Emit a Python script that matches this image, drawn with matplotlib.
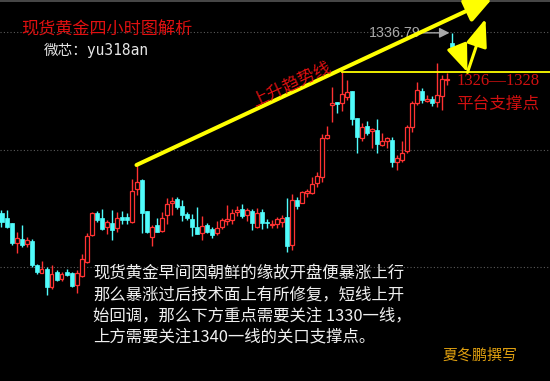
import matplotlib
matplotlib.use("Agg")
import matplotlib.pyplot as plt
import numpy as np

# ---- data (4-hour gold candles) ----
opens = [1291.75, 1290.5, 1289.25, 1284.25, 1285.25, 1284, 1284.75, 1278.75, 1276.75, 1277.75,
         1273.25, 1277, 1275.25, 1277, 1276.75, 1273.75, 1276, 1279.5, 1286.25, 1291.75,
         1290.5, 1288.25, 1289.25, 1288, 1290.75, 1290.75, 1289.5, 1297.75, 1300, 1292.25,
         1285.75, 1288.75, 1287.25, 1291.25, 1294.25, 1295.25, 1293.5, 1291.5, 1290.25, 1288.25,
         1286.75, 1288.75, 1287.75, 1286.75, 1288.25, 1289.75, 1290, 1292, 1292.75, 1291.25,
         1292.25, 1288.25, 1292, 1289.5, 1288.75, 1289, 1289.5, 1290.75, 1283.75, 1295,
         1294.25, 1296.75, 1296.75, 1299.25, 1300.75, 1310.5, 1318.75, 1319.5, 1319.25, 1320.75,
         1322.25, 1315.5, 1310.5, 1313.5, 1312.25, 1312.5, 1308.75, 1309.75, 1310, 1304.5,
         1305, 1307.25, 1313.25, 1319.25, 1322.25, 1319.75, 1320.25, 1319.5, 1321, 1325,
         1334.25, 1333.5]
highs = [1292.5, 1292.5, 1289.25, 1287, 1288.75, 1285.75, 1285.25, 1279, 1279.75, 1278.25,
         1278.75, 1277.5, 1277, 1277.75, 1277, 1277.5, 1281.5, 1286.75, 1292, 1292.25,
         1292.75, 1290, 1292.5, 1292, 1292.25, 1291.75, 1300.25, 1303.75, 1300.25, 1292.25,
         1288.75, 1290.5, 1292, 1295.5, 1295.75, 1295.75, 1295, 1292, 1291.5, 1293.25,
         1291, 1289.25, 1288.25, 1289.75, 1290.5, 1293.75, 1292.75, 1293.5, 1294, 1293,
         1292.75, 1293, 1292.75, 1290.25, 1290, 1290.75, 1291.25, 1295.5, 1296.5, 1295.75,
         1297.25, 1297.75, 1300.75, 1302, 1311.5, 1313.5, 1323.25, 1319.5, 1327, 1325,
         1322.25, 1315.5, 1314.25, 1314.75, 1313, 1315.25, 1311.75, 1310.75, 1310.75, 1306.25,
         1309.75, 1313.75, 1319.75, 1324.5, 1323, 1321.25, 1321, 1329.25, 1326.25, 1326.75,
         1336.79, 1333.75]
lows = [1288.25, 1288, 1283.75, 1281.75, 1283.25, 1283.25, 1278.25, 1276.5, 1276.75, 1271.25,
        1272.75, 1274.75, 1274.75, 1276, 1273.25, 1271.75, 1275.75, 1279.25, 1286, 1289.5,
        1287.5, 1286.5, 1285, 1287, 1289, 1289, 1289.25, 1296.25, 1286.75, 1286.75,
        1283.5, 1287, 1287, 1289, 1291.25, 1292.75, 1289.75, 1290, 1286, 1286.5,
        1285, 1286.75, 1285.5, 1286.25, 1287.75, 1288.75, 1289, 1291, 1290.5, 1289.75,
        1287.5, 1288, 1287.75, 1288, 1288, 1288, 1288.25, 1282, 1282.5, 1292.75,
        1294.25, 1295.75, 1296.5, 1298.25, 1299.5, 1310.25, 1314.5, 1316.75, 1317.25, 1320,
        1313.75, 1306.75, 1309.75, 1311.25, 1308, 1306.75, 1308.5, 1308, 1303.25, 1302.5,
        1304.5, 1306.75, 1312, 1318.75, 1319.25, 1319.5, 1318.5, 1318.25, 1317.5, 1323.75,
        1332.25, 1332]
closes = [1289.5, 1288.25, 1284.25, 1285.5, 1283.75, 1285, 1278.75, 1277, 1277.75, 1273.25,
          1276.5, 1275, 1276.5, 1276.25, 1273.5, 1276.75, 1280.25, 1286, 1291.75, 1290,
          1287.75, 1289.5, 1287.5, 1290.5, 1290, 1290, 1297.25, 1299.5, 1291.75, 1287,
          1288.25, 1287, 1290.5, 1294, 1294.75, 1293.25, 1291.25, 1290.5, 1288.25, 1286.5,
          1288.5, 1287, 1286.25, 1288, 1290, 1290.25, 1291.75, 1292.5, 1291, 1292.5,
          1289.25, 1291.75, 1289.25, 1289.25, 1289, 1290.25, 1290.5, 1283.5, 1295, 1293.5,
          1297, 1297.25, 1299, 1301, 1310.5, 1311.25, 1319.25, 1319, 1321.5, 1322,
          1315.25, 1310.75, 1313.25, 1311.75, 1312.75, 1309, 1309.75, 1310.5, 1304.5, 1305.5,
          1306.75, 1313.25, 1319.25, 1322.5, 1320, 1320.25, 1319.25, 1321.25, 1325.25, 1325.25,
          1333.25, 1332.5]

trend_start = (27, 1303.75)      # candle high where the trend line starts
trend_end = (98.1, 1345.25)
support_level = 1327.0
support_from = 68
recent_high = 1336.79
grid_levels = [1337.0, 1307.5, 1278.25]
path_down = [(91.4, 1332.5), (93.2, 1326.9)]
path_up = [(93.2, 1326.9), (96.8, 1340.3)]

title = "现货黄金四小时图解析"
contact = "微芯：yu318an"
trend_label = "上升趋势线"
zone_label = "1326—1328"
zone_label2 = "平台支撑点"
body_lines = ["现货黄金早间因朝鲜的缘故开盘便暴涨上行",
              "那么暴涨过后技术面上有所修复，短线上开",
              "始回调，那么下方重点需要关注 1330一线，",
              "上方需要关注1340一线的关口支撑点。"]
author = "夏冬鹏撰写"

RED = "#ff3232"
CYAN = "#50fcfc"
YEL = "#ffff00"
CJK = ["Noto Sans CJK SC", "DejaVu Sans"]

W, H = 550, 381
fig = plt.figure(figsize=(W / 100, H / 100), dpi=100, facecolor="black")
ax = fig.add_axes([0, 0, 1, 1])
ax.set_facecolor("black")
ax.set_xlim(-0.3, 109.7)
ax.set_ylim(1249.75, 1345)
ax.axis("off")

def fx(px):
    return px / W

def fy(py):
    return 1 - py / H

# grid
for g in grid_levels:
    ax.axhline(g, color="#5a5a5a", lw=0.8, ls=(0, (1, 2)), zorder=1)
ax.axhline(1344.8, color="#555555", lw=1.2, zorder=1)

o = np.array(opens); h = np.array(highs); l = np.array(lows); c = np.array(closes)
x = np.arange(len(o))
up = c >= o
bw = 0.8

# down candles (filled cyan)
d = ~up
ax.vlines(x[d], l[d], h[d], color=CYAN, lw=1, zorder=3)
ax.bar(x[d], (o - c)[d], bottom=c[d], width=bw, color=CYAN, edgecolor=CYAN, lw=0.5, zorder=4)

# up candles (hollow red)
ax.vlines(x[up], c[up], h[up], color=RED, lw=1, zorder=3)
ax.vlines(x[up], l[up], o[up], color=RED, lw=1, zorder=3)
hgt = np.maximum((c - o)[up], 0.15)
ax.bar(x[up], hgt, bottom=o[up], width=bw, facecolor="black", edgecolor=RED, lw=0.9, zorder=4)

# recent high label (under the trend line)
ax.annotate("", xy=(89.6, recent_high), xytext=(84.3, recent_high),
            arrowprops=dict(arrowstyle="-|>,head_length=0.6,head_width=0.3", color="#a8a8a8",
                            lw=1.0, mutation_scale=10, shrinkA=0, shrinkB=0), zorder=5)
ax.text(83.9, recent_high, f"{recent_high:.2f}", color="#a8a8a8", fontsize=10.3,
        family="Liberation Sans", ha="right", va="center", zorder=5)

# trend line
ax.annotate("", xy=trend_end, xytext=trend_start, annotation_clip=False,
            arrowprops=dict(arrowstyle="-|>,head_length=1.0,head_width=0.45", color=YEL,
                            lw=2.9, mutation_scale=16, shrinkA=0, shrinkB=0), zorder=6)
ax.plot([support_from, 109.7], [support_level, support_level], color=YEL, lw=1.3, zorder=5)

for (p0, p1) in (path_down, path_up):
    ax.annotate("", xy=p1, xytext=p0,
                arrowprops=dict(arrowstyle="-|>,head_length=1.3,head_width=0.5", color=YEL,
                                lw=2.2, mutation_scale=13, shrinkA=0, shrinkB=0), zorder=6)

# texts
fig.text(fx(107), fy(30), title, color="#e01010", fontsize=12.3, family=CJK,
         ha="center", va="center")
fig.text(fx(44), fy(50), contact, color="#e6e6e6", fontsize=10.5,
         family=["DejaVu Sans Mono", "Noto Sans CJK SC"], ha="left", va="center")
ax.text(57.9, 1323.9, trend_label, color="#e01010", fontsize=12.3, family=CJK,
        rotation=25.0, rotation_mode="anchor", ha="center", va="center", zorder=6)
fig.text(fx(456), fy(81), zone_label, color="#d01010", fontsize=12, family="Liberation Serif",
         ha="left", va="center")
fig.text(fx(498), fy(104), zone_label2, color="#d01010", fontsize=12, family=CJK,
         ha="center", va="center", fontweight="medium")
for i, s in enumerate(body_lines):
    fig.text(fx(93), fy(274 + 21 * i), s, color="#f0f0f0", fontsize=11.8, family=CJK,
             ha="left", va="center")
fig.text(fx(480), fy(355), author, color="#e0a010", fontsize=10.8, family=CJK,
         ha="center", va="center", fontweight="medium")

fig.savefig("out.png", dpi=100, facecolor="black")
